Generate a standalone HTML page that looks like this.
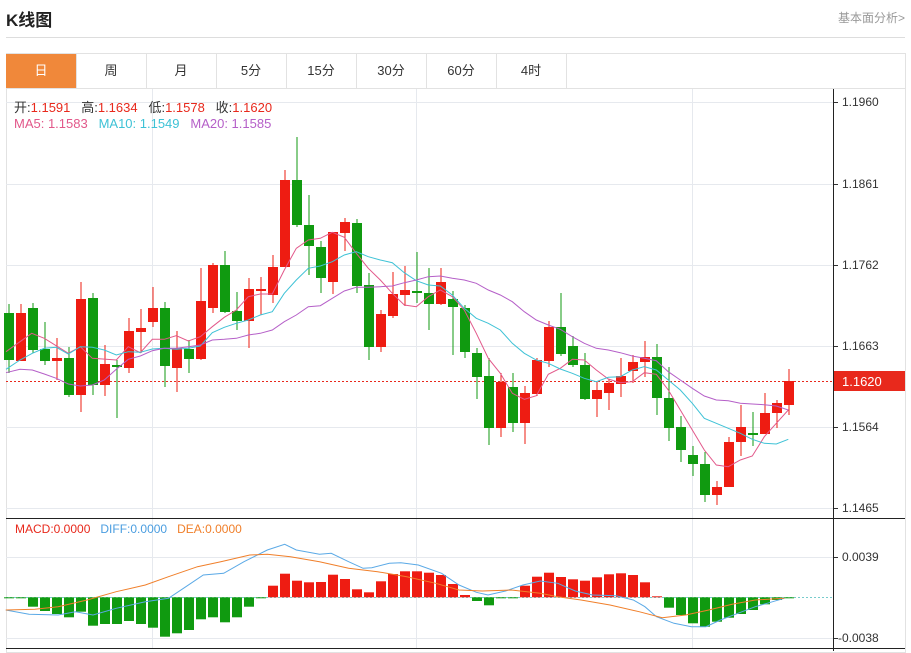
<!DOCTYPE html>
<html><head><meta charset="utf-8"><style>
body{margin:0;width:911px;height:653px;background:#fff;font-family:"Liberation Sans","Noto Sans CJK SC",sans-serif;position:relative;overflow:hidden}
.t{position:absolute;white-space:nowrap}
.tab{position:absolute;top:54px;height:34px;width:70px;line-height:34px;text-align:center;font-size:13px;color:#333;border-right:1px solid #e2e2e2}
</style></head><body>
<div class="t" style="left:6px;top:6px;font-size:17px;font-weight:bold;color:#222">K线图</div>
<div class="t" style="left:838px;top:9px;font-size:12px;color:#999">基本面分析&gt;</div>
<div style="position:absolute;left:6px;top:37px;width:899px;height:1px;background:#ddd"></div>
<div style="position:absolute;left:6px;top:53px;width:898px;height:598px;border:1px solid #e2e2e2"></div>
<div style="position:absolute;left:6px;top:88px;width:899px;height:1px;background:#e2e2e2"></div>
<div class="tab" style="left:6px;background:#f0883a;color:#fff">日</div>
<div class="tab" style="left:76px">周</div>
<div class="tab" style="left:146px">月</div>
<div class="tab" style="left:216px">5分</div>
<div class="tab" style="left:286px">15分</div>
<div class="tab" style="left:356px">30分</div>
<div class="tab" style="left:426px">60分</div>
<div class="tab" style="left:496px">4时</div>
<svg id="s" width="911" height="653" style="position:absolute;left:0;top:0"></svg>
<div class="t" style="left:14px;top:97px;font-size:13px;color:#333">开:<span style="color:#e8291c">1.1591</span>&nbsp;&nbsp; 高:<span style="color:#e8291c">1.1634</span>&nbsp;&nbsp; 低:<span style="color:#e8291c">1.1578</span>&nbsp;&nbsp; 收:<span style="color:#e8291c">1.1620</span></div>
<div class="t" style="left:14px;top:116px;font-size:13px"><span style="color:#e2588a">MA5: 1.1583</span>&nbsp;&nbsp; <span style="color:#3ec2d6">MA10: 1.1549</span>&nbsp;&nbsp; <span style="color:#b55fc8">MA20: 1.1585</span></div>
<div class="t" style="left:15px;top:522px;font-size:12px"><span style="color:#e8291c">MACD:0.0000</span>&nbsp;&nbsp; <span style="color:#4a9de0">DIFF:0.0000</span>&nbsp;&nbsp; <span style="color:#f07f2a">DEA:0.0000</span></div>
<div class="t" style="left:842px;top:95px;font-size:12px;color:#333">1.1960</div>
<div class="t" style="left:842px;top:177px;font-size:12px;color:#333">1.1861</div>
<div class="t" style="left:842px;top:258px;font-size:12px;color:#333">1.1762</div>
<div class="t" style="left:842px;top:339px;font-size:12px;color:#333">1.1663</div>
<div class="t" style="left:842px;top:420px;font-size:12px;color:#333">1.1564</div>
<div class="t" style="left:842px;top:501px;font-size:12px;color:#333">1.1465</div>
<div style="position:absolute;left:834px;top:371px;width:71px;height:20px;background:#e8291c"></div>
<div class="t" style="left:842px;top:374px;font-size:13px;color:#fff">1.1620</div>
<div class="t" style="left:842px;top:550px;font-size:12px;color:#333">0.0039</div>
<div class="t" style="left:838px;top:631px;font-size:12px;color:#333">-0.0038</div>
<script>
var s=document.getElementById('s'),h='';
function L(x1,y1,x2,y2,c,w,d){h+='<line x1="'+x1+'" y1="'+y1+'" x2="'+x2+'" y2="'+y2+'" stroke="'+c+'" stroke-width="'+(w||1)+'"'+(d?' stroke-dasharray="'+d+'"':'')+'/>';}
[102,184,265,346,427,508,557,638].forEach(function(y){L(6,y+.5,833,y+.5,'#e6e9ee');L(833,y+.5,838,y+.5,'#333');});
[152,416,692].forEach(function(x){L(x+.5,89,x+.5,648,'#e6e9ee');});
L(6,381.5,833,381.5,'#e8291c',1,'2,2');
L(6,597.5,833,597.5,'#7cc',1,'2,2');
var C=[[304,373,313,360,0],[304,361,313,361,1],[303,353,308,350,0],[322,365,349,361,0],[338,380,358,361,1],[347,397,358,395,0],[282,412,299,395,1],[293,395,298,385,0],[345,396,364,385,1],[360,418,365,367,0],[318,373,331,368,1],[309,353,328,332,1],[287,327,308,322,1],[302,387,308,366,0],[331,392,348,368,1],[340,373,349,359,0],[268,360,301,359,1],[263,313,265,308,1],[251,313,265,312,0],[292,330,311,321,0],[278,348,289,321,1],[277,315,289,290,1],[255,303,267,295,1],[170,267,180,267,1],[137,227,180,225,0],[195,275,225,246,0],[241,293,247,278,0],[232,294,232,282,1],[218,251,222,233,1],[219,293,223,286,0],[273,360,285,347,0],[310,352,314,347,1],[272,318,294,316,1],[266,306,290,295,1],[252,303,291,292,0],[268,330,293,304,0],[268,305,282,304,1],[291,355,299,307,0],[305,358,308,352,0],[348,399,353,377,0],[358,445,376,428,0],[373,437,382,428,1],[373,432,387,423,0],[386,444,393,423,1],[358,396,360,394,1],[321,367,327,361,1],[293,356,327,354,0],[336,367,346,365,0],[353,400,365,399,0],[382,417,390,399,1],[379,410,383,393,1],[358,397,376,384,1],[355,383,362,371,1],[341,377,357,362,1],[344,415,357,398,0],[367,441,398,428,0],[416,462,427,450,0],[446,476,455,464,0],[452,502,464,495,0],[481,505,487,495,1],[437,487,442,487,1],[405,456,427,442,1],[412,446,433,434,0],[393,434,413,434,1],[400,428,403,413,1],[369,415,381,405,1]];
function X(i){return 9+12*i;}
C.forEach(function(c,i){var col=c[4]?'#ee1c12':'#109a10',x=X(i);L(x,c[0],x,c[1],col,1);var t=Math.min(c[2],c[3]),b=Math.max(c[2],c[3]);h+='<rect x="'+(x-5)+'" y="'+t+'" width="10" height="'+Math.max(b-t,2)+'" fill="'+col+'"/>';});
function P(pts,c,sx,sy,ox,oy){var a=pts.map(function(p){return (p[0]*sx+ox).toFixed(1)+','+(p[1]*sy+oy).toFixed(1)}).join(' ');h+='<polyline points="'+a+'" fill="none" stroke="'+c+'" stroke-width="1"/>';}
var t=1/3;
function Z(a){return a.map(function(p){return [p[0]+1320,p[1]+300]});}
P([[18,665],[95,610],[133,625],[205,670],[241,650],[277,685],[349,690],[385,650],[421,668],[457,628],[493,628],[529,617],[565,633],[601,620],[637,590],[673,562],[709,540],[745,500],[781,492],[817,492],[853,420],[889,355],[925,330],[961,325],[997,307],[1033,322],[1069,370],[1105,415],[1141,450],[1177,490],[1213,525],[1249,530],[1285,500],[1321,480]].concat(Z([[37,200],[73,240],[109,310],[145,385],[181,430],[217,490],[253,508],[289,497],[325,433],[361,415],[397,388],[433,390],[469,420],[505,447],[541,458],[577,455],[613,428],[649,433],[685,480],[721,540],[757,600],[793,660],[829,705],[865,710],[901,690],[937,678],[973,620],[1009,580],[1045,540]])),'#e2588a',t,t,0,130);
P([[18,718],[60,690],[97,670],[133,655],[169,652],[205,672],[241,650],[277,652],[313,660],[349,675],[385,665],[421,667],[457,657],[493,655],[529,658],[565,655],[601,648],[637,608],[673,592],[709,580],[745,570],[781,555],[817,545],[853,490],[889,450],[925,415],[961,408],[997,395],[1033,375],[1069,365],[1105,380],[1141,390],[1177,398],[1213,428],[1249,452],[1285,465],[1321,468]].concat(Z([[37,195],[73,235],[109,265],[145,280],[181,300],[217,340],[253,370],[289,390],[325,400],[361,417],[397,430],[433,445],[469,455],[505,442],[541,440],[577,420],[613,410],[649,420],[685,450],[721,480],[757,520],[793,565],[829,580],[865,595],[901,610],[937,628],[973,640],[1009,642],[1045,628]])),'#3ec2d6',t,t,0,130);
P([[18,728],[60,718],[97,720],[133,732],[169,745],[205,762],[241,768],[277,765],[313,750],[349,718],[385,688],[421,678],[457,662],[493,655],[529,655],[565,650],[601,645],[637,630],[673,628],[709,625],[745,615],[781,610],[817,600],[853,575],[889,555],[925,530],[961,527],[997,505],[1033,483],[1069,472],[1105,472],[1141,470],[1177,468],[1213,458],[1249,450],[1285,440],[1321,438]].concat(Z([[37,145],[73,150],[109,160],[145,180],[181,195],[217,215],[253,245],[289,270],[325,285],[361,298],[397,320],[433,340],[469,355],[505,360],[541,368],[577,378],[613,385],[649,392],[685,425],[721,450],[757,475],[793,498],[829,510],[865,512],[901,520],[937,522],[973,524],[1009,528],[1045,540]])),'#b55fc8',t,t,0,130);
var M=[247,247,275,288,297,307,290,332,327,327,318,327,338,365,355,345,313,307,322,307,275,249,212,176,197,202,201,179,192,223,232,199,177,169,169,173,180,207,240,258,271,249,249,212,185,173,186,193,197,187,178,175,180,202,244,278,300,325,335,320,308,297,285,268,255,250];
M.forEach(function(v,i){var y=515+v/3,z=597.3,col=v<247?'#ee1c12':'#109a10';var t=Math.min(y,z),b=Math.max(y,z);h+='<rect x="'+(X(i)-5)+'" y="'+t.toFixed(1)+'" width="10" height="'+Math.max(b-t,1).toFixed(1)+'" fill="'+col+'"/>';});
var k=0.581;
P([[10,285],[50,298],[100,300],[130,290],[160,300],[200,280],[250,260],[290,250],[320,215],[350,180],[385,175],[420,140],[460,105],[490,88],[510,105],[550,118],[570,115],[600,140],[625,160],[640,158],[670,145],[690,143],[720,150],[760,175],[790,210],[820,232],[840,240],[870,228],[900,210],[930,198],[960,205],[990,228],[1020,240],[1060,242],[1090,255],[1110,275],[1130,305],[1160,325],[1190,335],[1215,335],[1240,315],[1270,295],[1300,275],[1330,260],[1350,250]],'#5aa9e6',k,t,0,515);
P([[10,285],[60,283],[100,275],[150,255],[200,230],[250,210],[290,185],[340,155],[380,140],[430,120],[460,118],[500,125],[550,140],[600,160],[650,170],[700,185],[750,205],[790,225],[830,228],[880,225],[930,235],[960,245],[1000,255],[1050,270],[1100,290],[1140,308],[1180,300],[1220,285],[1260,268],[1300,255],[1350,250]],'#f07f2a',k,t,0,515);
L(833.5,89,833.5,651,'#222');
L(6,518.5,905,518.5,'#222');
L(6,648.5,905,648.5,'#222');
s.innerHTML=h;
</script>
</body></html>
